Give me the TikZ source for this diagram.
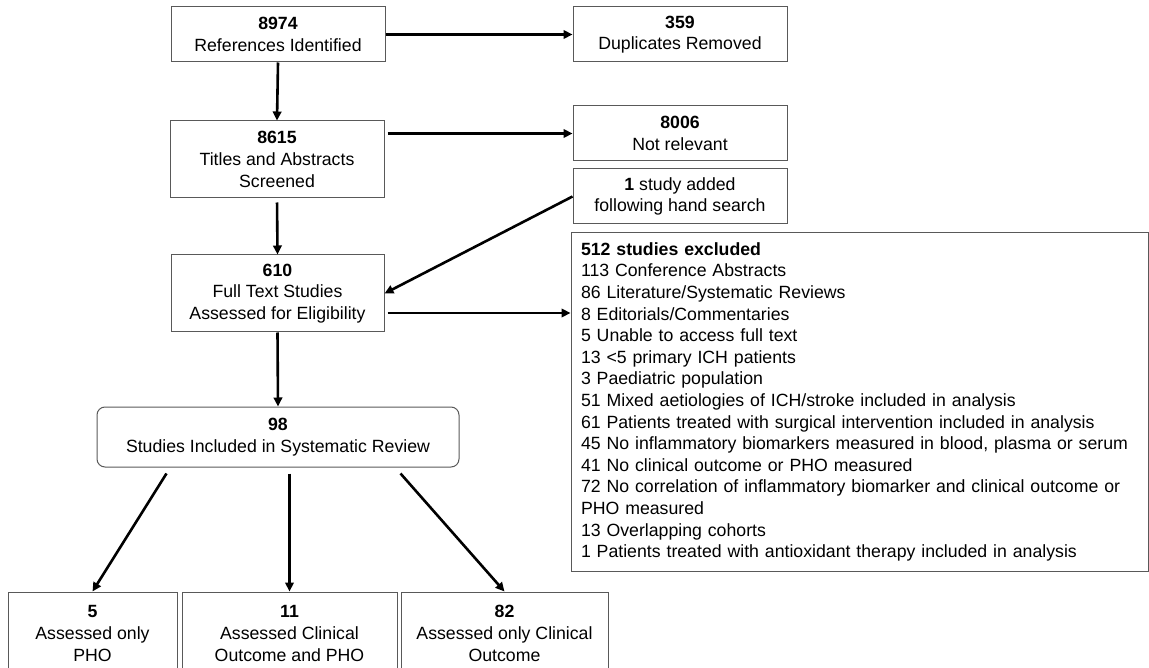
\documentclass[tikz,border=0pt]{standalone}
\usepackage{fontspec}
\setmainfont{Liberation Sans}
\usetikzlibrary{arrows.meta}
\begin{document}
\begin{tikzpicture}[x=1pt,y=-1pt,
  box/.style={draw=black!65, line width=1pt, align=center, inner sep=0pt,
    font=\fontsize{17.7}{21.6}\selectfont},
  arr/.style={line width=2.6pt, -{Triangle[length=9pt,width=8.5pt]}},
]
\useasboundingbox (0,0) rectangle (1149,668);
\node[box, minimum width=214pt, minimum height=55pt] (A) at (278,34.5) {\textbf{8974}\\References Identified};
\node[box, minimum width=214pt, minimum height=55pt] (B) at (680,34.5) {\textbf{359}\\Duplicates Removed};
\node[box, minimum width=214pt, minimum height=77pt] (C) at (277,159.5) {\textbf{8615}\\Titles and Abstracts\\Screened};
\node[box, minimum width=214pt, minimum height=55pt] (D) at (680,133.5) {\textbf{8006}\\Not relevant};
\node[box, minimum width=214pt, minimum height=55pt] (E) at (680,196.5) {\textbf{1} study added\\following hand search};
\node[box, minimum width=213pt, minimum height=77pt] (F) at (277.5,293.5) {\textbf{610}\\Full Text Studies\\Assessed for Eligibility};
\node[box, align=left, text width=557pt, inner xsep=10pt, minimum height=338pt] (G) at (859.5,402) {\textbf{512 studies excluded}\\
113 Conference Abstracts\\
86 Literature/Systematic Reviews\\
8 Editorials/Commentaries\\
5 Unable to access full text\\
13 <5 primary ICH patients\\
3 Paediatric population\\
51 Mixed aetiologies of ICH/stroke included in analysis\\
61 Patients treated with surgical intervention included in analysis\\
45 No inflammatory biomarkers measured in blood, plasma or serum\\
41 No clinical outcome or PHO measured\\
72 No correlation of inflammatory biomarker and clinical outcome or\\
PHO measured\\
13 Overlapping cohorts\\
1 Patients treated with antioxidant therapy included in analysis};
\node[box, rounded corners=8pt, minimum width=362pt, minimum height=60pt] (H) at (278,437) {\textbf{98}\\Studies Included in Systematic Review};
\node[box, minimum width=169pt, minimum height=83pt] (I1) at (92.5,633.5) {\textbf{5}\\Assessed only\\PHO};
\node[box, minimum width=215pt, minimum height=83pt] (I2) at (289.5,633.5) {\textbf{11}\\Assessed Clinical\\Outcome and PHO};
\node[box, minimum width=207pt, minimum height=83pt] (I3) at (504.5,633.5) {\textbf{82}\\Assessed only Clinical\\Outcome};

\draw[arr] (A.east) -- (B.west);
\draw[arr] (A.south) -- (C.north);
\coordinate (c1) at (C.east |- D.west);
\draw[arr, shorten <=3pt] (c1) -- (D.west);
\draw[arr] (E.west) -- (F.east);
\draw[arr, shorten <=4pt] (C.south) -- (F.north);
\coordinate (f1) at ([yshift=-19.5pt]F.east);
\draw[arr, shorten <=3pt] (f1) -- (f1 -| G.west);
\draw[arr] (F.south) -- (H.north);
\coordinate (h1) at ([xshift=70pt,yshift=-6pt]H.south west);
\coordinate (h2) at (I2.north |- h1);
\coordinate (h3) at ([xshift=-59pt,yshift=-6pt]H.south east);
\draw[arr] (h1) -- (I1.north);
\draw[arr] (h2) -- (I2.north);
\draw[arr] (h3) -- (I3.north);
\end{tikzpicture}
\end{document}
